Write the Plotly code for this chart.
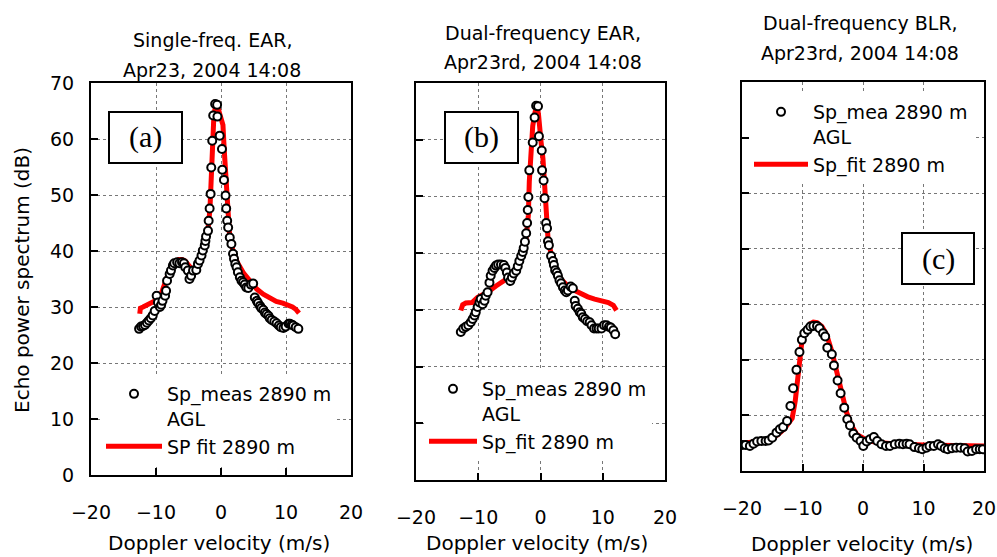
import plotly.graph_objects as go

W, H = 997, 557
OFF = 0  # page body margin removed via post_script below

# ---------------- data ----------------
a_meas_v = [-12.6, -12.3, -12.0, -11.7, -11.4, -11.1, -10.8, -10.5, -10.2, -9.9, -9.7, -9.4, -9.2, -9.0, -8.6, -8.45, -8.3, -7.9, -7.7, -7.4, -7.2, -6.75, -6.4, -6.0, -5.7, -5.5, -5.1, -4.85, -4.6, -4.3, -3.8, -3.55, -3.3, -3.0, -2.8, -2.5, -2.4, -2.3, -2.0, -1.9, -1.75, -1.6, -1.5, -1.35, -1.2, -0.9, -0.6, -0.55, -0.2, 0.15, 0.2, 0.45, 0.7, 0.8, 0.95, 1.1, 1.35, 1.6, 1.85, 2.0, 2.2, 2.4, 2.6, 2.9, 3.15, 3.4, 3.65, 3.9, 4.2, 4.6, 4.95, 5.2, 5.5, 5.7, 6.0, 6.2, 6.5, 6.75, 7.0, 7.3, 7.5, 7.8, 8.2, 8.55, 8.9, 9.2, 9.6, 9.95, 10.4, 10.6, 10.9, 11.1, 11.5, 11.9]
a_meas_db = [26.1, 26.5, 26.6, 26.8, 27.2, 27.6, 28.0, 28.5, 29.3, 32.0, 30.8, 30.0, 30.4, 31.1, 32.0, 32.9, 34.7, 35.9, 36.5, 37.4, 37.8, 38.0, 37.8, 38.0, 37.8, 37.1, 36.5, 35.0, 35.6, 36.5, 36.6, 37.7, 38.3, 39.2, 40.1, 41.0, 41.8, 42.6, 43.6, 45.4, 47.6, 50.2, 54.9, 59.7, 64.2, 66.25, 66.1, 64.0, 60.6, 58.2, 54.5, 52.7, 49.9, 47.6, 45.4, 44.2, 42.4, 41.25, 39.5, 38.6, 37.7, 37.1, 36.2, 35.3, 34.7, 34.4, 34.0, 33.5, 33.4, 34.0, 34.2, 31.7, 31.1, 30.7, 30.2, 29.8, 29.5, 29.0, 28.75, 28.45, 28.0, 27.7, 27.4, 27.1, 26.7, 26.4, 26.25, 26.5, 27.0, 27.0, 26.85, 26.7, 26.4, 26.1]

a_fit_v = [-12.5, -12.4, -12.0, -11.5, -11.0, -10.5, -10.0, -9.5, -9.0, -8.5, -8.0, -7.5, -7.0, -6.5, -6.0, -5.5, -5.0, -4.5, -4.0, -3.5, -3.0, -2.5, -2.0, -1.7, -1.55, -1.45, -1.3, -1.1, -0.8, -0.5, -0.2, 0.1, 0.3, 0.5, 0.7, 0.85, 1.0, 1.3, 1.8, 2.5, 3.5, 4.5, 5.5, 6.5, 7.5, 8.5, 9.5, 10.5, 11.0, 11.5, 12.0]
a_fit_db = [28.8, 29.8, 30.0, 30.3, 30.5, 30.7, 31.0, 31.5, 33.0, 35.0, 36.3, 37.6, 38.2, 38.5, 38.5, 38.2, 37.5, 36.8, 37.0, 38.0, 39.5, 41.3, 43.8, 47.5, 53.0, 58.0, 61.5, 64.0, 66.3, 65.8, 64.5, 63.5, 62.5, 58.0, 54.0, 50.0, 46.5, 43.2, 40.2, 38.0, 36.0, 34.6, 33.2, 32.3, 31.6, 31.0, 30.7, 30.3, 30.0, 29.6, 28.9]

b_meas_v = [-12.8, -12.4, -12.0, -11.6, -11.2, -10.9, -10.6, -10.4, -10.1, -9.8, -9.6, -9.3, -9.0, -8.8, -8.5, -8.2, -8.0, -7.7, -7.4, -7.15, -6.8, -6.35, -5.9, -5.65, -5.4, -5.2, -4.85, -4.6, -4.3, -3.9, -3.65, -3.4, -3.1, -2.85, -2.7, -2.5, -2.3, -2.15, -2.05, -1.95, -1.8, -1.25, -0.95, -0.7, -0.4, -0.25, 0.2, 0.25, 0.5, 0.65, 0.9, 1.05, 1.2, 1.35, 1.7, 2.0, 2.15, 2.35, 2.6, 2.8, 3.05, 3.3, 3.6, 3.9, 4.15, 4.4, 4.85, 5.2, 5.5, 5.65, 6.0, 6.3, 6.55, 6.8, 7.15, 7.5, 7.9, 8.2, 8.6, 9.0, 9.35, 9.8, 10.2, 10.6, 11.0, 11.3, 11.7, 12.0]
b_meas_db = [26.1, 26.7, 27.0, 27.3, 27.8, 28.4, 29.0, 29.6, 30.5, 31.3, 31.9, 31.0, 31.6, 32.5, 33.1, 34.8, 36.0, 36.9, 37.4, 37.8, 38.0, 38.0, 37.9, 37.4, 36.6, 35.7, 35.1, 35.7, 36.4, 36.9, 37.7, 38.6, 39.5, 40.2, 40.9, 42.0, 43.5, 45.3, 47.6, 49.9, 54.6, 59.5, 63.9, 66.0, 65.9, 60.6, 58.1, 54.6, 52.8, 49.7, 45.3, 44.4, 42.1, 41.4, 39.5, 38.6, 37.9, 37.0, 36.6, 36.0, 35.2, 34.7, 34.0, 33.4, 33.1, 33.4, 34.1, 33.8, 31.6, 30.7, 30.2, 29.6, 29.3, 28.7, 28.4, 28.0, 27.8, 27.3, 26.7, 26.7, 26.7, 26.7, 27.3, 27.3, 27.0, 26.9, 26.4, 25.7]

b_fit_v = [-12.8, -12.5, -12.0, -11.0, -10.1, -9.0, -8.5, -7.15, -5.8, -4.7, -3.65, -2.85, -2.3, -1.95, -1.8, -1.5, -1.25, -0.85, -0.5, -0.3, -0.15, 0.1, 0.4, 0.65, 0.9, 1.2, 1.7, 2.5, 3.3, 4.4, 5.5, 6.55, 7.6, 8.7, 9.8, 10.9, 11.7, 12.2]
b_fit_db = [29.9, 30.9, 31.2, 31.3, 32.2, 32.8, 33.1, 34.2, 35.1, 36.0, 37.4, 39.8, 42.7, 46.7, 52.6, 58.4, 62.4, 65.0, 65.9, 64.2, 61.9, 59.5, 56.6, 51.4, 46.7, 42.7, 39.8, 37.1, 35.4, 34.2, 33.4, 32.8, 32.3, 31.9, 31.6, 31.3, 30.8, 29.9]

c_meas_v = [-19.95, -19.4, -18.7, -18.1, -17.5, -16.8, -16.1, -15.6, -15.0, -14.3, -13.75, -13.2, -12.55, -12.0, -11.55, -11.0, -10.5, -10.1, -9.7, -9.15, -8.7, -8.2, -7.6, -7.2, -6.6, -6.25, -5.9, -5.15, -4.8, -4.2, -3.7, -3.1, -2.6, -2.15, -1.6, -1.05, -0.4, 0.05, 0.6, 1.15, 1.8, 2.35, 3.05, 3.8, 4.45, 5.25, 6.0, 6.6, 7.2, 7.7, 8.5, 9.25, 9.8, 10.5, 11.0, 11.7, 12.4, 12.9, 13.5, 14.0, 14.7, 15.4, 16.1, 16.8, 17.3, 18.0, 18.7, 19.3, 19.8]
c_meas_db = [4.7, 4.7, 4.5, 4.9, 5.3, 5.4, 5.4, 5.5, 6.0, 6.9, 7.5, 7.9, 9.0, 11.7, 14.9, 18.2, 21.4, 23.6, 24.8, 25.4, 26.0, 26.1, 26.1, 25.7, 24.8, 24.2, 22.2, 21.0, 19.0, 16.3, 14.0, 11.4, 9.3, 8.2, 6.7, 6.0, 5.4, 4.5, 5.3, 5.7, 6.1, 5.4, 4.8, 4.5, 4.5, 4.8, 4.9, 4.8, 4.9, 4.8, 4.3, 4.1, 3.9, 4.2, 4.5, 4.5, 4.8, 4.5, 4.1, 3.9, 4.1, 4.2, 4.2, 4.1, 3.5, 3.6, 3.9, 3.9, 3.9]

c_fit_v = [-20, -18, -16, -15, -14, -13, -12.3, -11.7, -11.2, -10.6, -10.1, -9.5, -8.7, -8.2, -7.6, -6.8, -6.0, -5.15, -4.3, -3.5, -2.7, -1.85, -1.05, 0.05, 1.15, 2.8, 5, 10, 15, 20]
c_fit_db = [5.0, 5.2, 5.5, 5.9, 6.6, 7.6, 8.6, 9.5, 12.6, 18.5, 23.3, 25.4, 26.5, 26.8, 26.7, 26.0, 24.5, 21.5, 17.6, 14.0, 10.5, 8.1, 6.6, 5.9, 5.4, 5.1, 4.9, 4.7, 4.6, 4.5]

titles = [("Single-freq. EAR,", "Apr23, 2004 14:08"),
          ("Dual-frequency EAR,", "Apr23rd, 2004 14:08"),
          ("Dual-frequency BLR,", "Apr23rd, 2004 14:08")]
meas_names = ["Sp_meas 2890 m<br>AGL", "Sp_meas 2890 m<br>AGL", "Sp_mea 2890 m<br>AGL"]
fit_names = ["SP fit 2890 m", "Sp_fit 2890 m", "Sp_fit 2890 m"]
panel_labels = ["(a)", "(b)", "(c)"]
x_title = "Doppler velocity (m/s)"
y_title = "Echo power spectrum (dB)"

# ---------------- layout helpers (page-pixel geometry) ----------------
FONT = "DejaVu Sans"
def px(x): return (x - OFF) / W
def py(y): return 1 - (y - OFF) / H

panels = [  # left, right, top, bottom in page px
    (91, 351, 83, 475),
    (416, 665, 83, 480),
    (742, 984, 82, 471),
]

fig = go.Figure()
series = [(a_meas_v, a_meas_db, a_fit_v, a_fit_db),
          (b_meas_v, b_meas_db, b_fit_v, b_fit_db),
          (c_meas_v, c_meas_db, c_fit_v, c_fit_db)]
legend_ids = ["legend", "legend2", "legend3"]
for i, (mv, md, fv, fd) in enumerate(series):
    xa = "x" if i == 0 else f"x{i+1}"
    ya = "y" if i == 0 else f"y{i+1}"
    fig.add_trace(go.Scatter(x=fv, y=fd, mode="lines", name=fit_names[i],
                             line=dict(color="#ff0000", width=5),
                             xaxis=xa, yaxis=ya, legend=legend_ids[i], legendrank=2))
    fig.add_trace(go.Scatter(x=mv, y=md, mode="markers", name=meas_names[i],
                             marker=dict(symbol="circle", size=8, color="white",
                                         line=dict(color="black", width=2)),
                             xaxis=xa, yaxis=ya, legend=legend_ids[i], legendrank=1))

axis_common = dict(showline=True, linewidth=2, linecolor="black", mirror=True,
                   ticks="inside", ticklen=7, tickwidth=1.5, tickcolor="black",
                   showgrid=True, gridcolor="#777777", griddash="dot", gridwidth=1,
                   zeroline=False, automargin=False, ticklabeloverflow="allow",
                   tickfont=dict(family=FONT, size=19, color="black"))
layout = dict(width=W, height=H, margin=dict(l=0, r=0, t=0, b=0, autoexpand=False),
              paper_bgcolor="white", plot_bgcolor="white", showlegend=True)
for i, (l, r, t, b) in enumerate(panels):
    sx = "" if i == 0 else str(i + 1)
    layout["xaxis" + sx] = dict(axis_common, domain=[px(l), px(r)], range=[-20, 20], dtick=10,
                                anchor="y" + sx, ticklabelstandoff=19)
    layout["yaxis" + sx] = dict(axis_common, domain=[py(b), py(t)], range=[0, 70], dtick=10,
                                anchor="x" + sx, showticklabels=(i == 0), ticklabelstandoff=11)

legend_pos = [(101, 375, 56), (424, 370, 48), (749, 93, 54)]
for i, (lx, ly, iw) in enumerate(legend_pos):
    layout[legend_ids[i]] = dict(x=px(lx), y=py(ly), xanchor="left", yanchor="top",
                                 bgcolor="white", borderwidth=0, itemwidth=iw, valign="top",
                                 font=dict(family=FONT, size=19, color="black"),
                                 tracegroupgap=0)
fig.update_layout(**layout)

# titles
title_pos = [(212, 40, 70), (543, 33, 62), (860, 23, 53)]
for (t1, t2), (cx, y1, y2) in zip(titles, title_pos):
    for txt, yy in ((t1, y1), (t2, y2)):
        fig.add_annotation(x=px(cx), y=py(yy), xref="paper", yref="paper", text=txt,
                           showarrow=False, xanchor="center", yanchor="middle",
                           font=dict(family=FONT, size=19, color="black"))

# x axis titles
for cx, cy in [(219, 543), (537, 543), (862, 544)]:
    fig.add_annotation(x=px(cx), y=py(cy), xref="paper", yref="paper", text=x_title,
                       showarrow=False, xanchor="center", yanchor="middle",
                       font=dict(family=FONT, size=20, color="black"))
# y axis title
fig.add_annotation(x=px(22), y=py(280), xref="paper", yref="paper", text=y_title,
                   showarrow=False, textangle=-90, xanchor="center", yanchor="middle",
                   font=dict(family=FONT, size=20, color="black"))

# panel label boxes
boxes = [(109, 182, 112, 163), (445, 518, 112, 163), (902, 974, 233, 284)]
for lab, (x0, x1, y0, y1) in zip(panel_labels, boxes):
    fig.add_shape(type="rect", xref="paper", yref="paper", x0=px(x0), x1=px(x1),
                  y0=py(y1), y1=py(y0), line=dict(color="black", width=2),
                  fillcolor="white", layer="above")
    fig.add_annotation(x=px((x0 + x1) / 2), y=py((y0 + y1) / 2), xref="paper", yref="paper",
                       text=lab, showarrow=False, xanchor="center", yanchor="middle",
                       font=dict(family="Liberation Serif", size=30, color="black"))

fig.write_html("out.html", config={"displayModeBar": False},
               post_script="document.body.style.margin='0';document.body.style.overflow='hidden';"
                           "document.documentElement.style.overflow='hidden';")
